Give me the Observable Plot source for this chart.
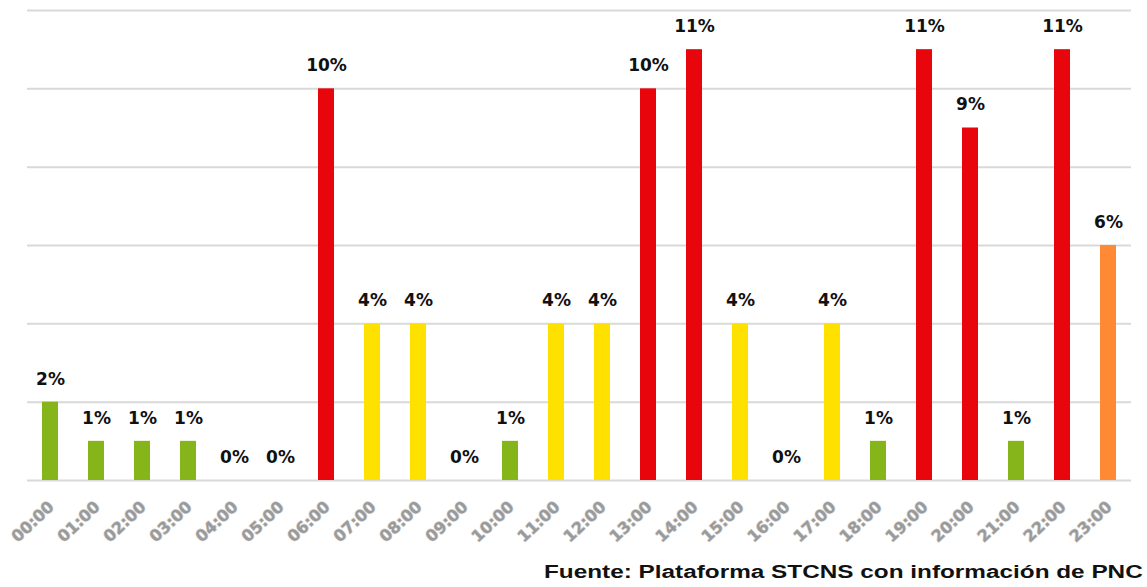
<!DOCTYPE html>
<html>
<head>
<meta charset="utf-8">
<script src="https://cdn.jsdelivr.net/npm/d3@7"></script>
<script src="https://cdn.jsdelivr.net/npm/@observablehq/plot@0.6"></script>
<style>
  html, body { margin: 0; padding: 0; background: #fff; }
  #chart { width: 1147px; height: 587px; position: relative; overflow: hidden; }
  #chart svg { display: block; }
  #caption { position: absolute; right: 4px; top: 562px; line-height: 20px; white-space: nowrap;
    font: bold 17.5px "Liberation Sans", Arial, sans-serif; color: #111;
    transform: scaleX(1.39); transform-origin: right center; }
</style>
</head>
<body>
<div id="chart"></div>
<script>
const horas = ["00:00","01:00","02:00","03:00","04:00","05:00","06:00","07:00","08:00","09:00","10:00","11:00","12:00","13:00","14:00","15:00","16:00","17:00","18:00","19:00","20:00","21:00","22:00","23:00"];
const porcentajes = [2,1,1,1,0,0,10,4,4,0,1,4,4,10,11,4,0,4,1,11,9,1,11,6];
const niveles = ["bajo","bajo","bajo","bajo","bajo","bajo","alto","medio","medio","bajo","bajo","medio","medio","alto","alto","medio","bajo","medio","bajo","alto","alto","bajo","alto","medioAlto"];
const nivelDominio = ["bajo","medio","medioAlto","alto"];
const nivelColores = ["#86b51b","#ffe100","#ff8a33","#e8060c"];
const gridTicks = [0,2,4,6,8,10,12];
const caption = "Fuente: Plataforma STCNS con información de PNC";

const data = horas.map((h, i) => ({hora: h, valor: porcentajes[i], nivel: niveles[i]}));

const H = 557;
const chart = Plot.plot({
  width: 1147,
  height: H,
  marginLeft: 27,
  marginRight: 16,
  marginTop: 10,
  marginBottom: H - 480,
  x: {domain: horas, paddingInner: 0.652, paddingOuter: 0.326, round: false, axis: null},
  y: {domain: [0, 12], axis: null},
  color: {domain: nivelDominio, range: nivelColores},
  style: {background: "#fff"},
  marks: [
    Plot.ruleY(gridTicks, {stroke: "#d9d9d9", strokeWidth: 2}),
    Plot.barY(data, {x: "hora", y: "valor", fill: "nivel"}),
    Plot.text(data, {x: "hora", y: "valor", text: d => d.valor + "%", dy: -23,
      fontSize: 17, fontWeight: "bold", fill: "#111",
      fontFamily: "DejaVu Sans, Verdana, sans-serif"}),
    Plot.text(horas, {x: d => d, frameAnchor: "bottom", dx: 1, dy: 24, rotate: -43,
      textAnchor: "end", lineAnchor: "middle", fontSize: 16, fontWeight: "bold",
      fill: "#9a9a9a", stroke: "#d4d4d4", strokeWidth: 1.2, paintOrder: "stroke",
      fontFamily: "DejaVu Sans, Verdana, sans-serif"})
  ]
});
document.getElementById("chart").appendChild(chart);
const cap = document.createElement("div");
cap.id = "caption";
cap.textContent = caption;
document.getElementById("chart").appendChild(cap);
</script>
</body>
</html>
